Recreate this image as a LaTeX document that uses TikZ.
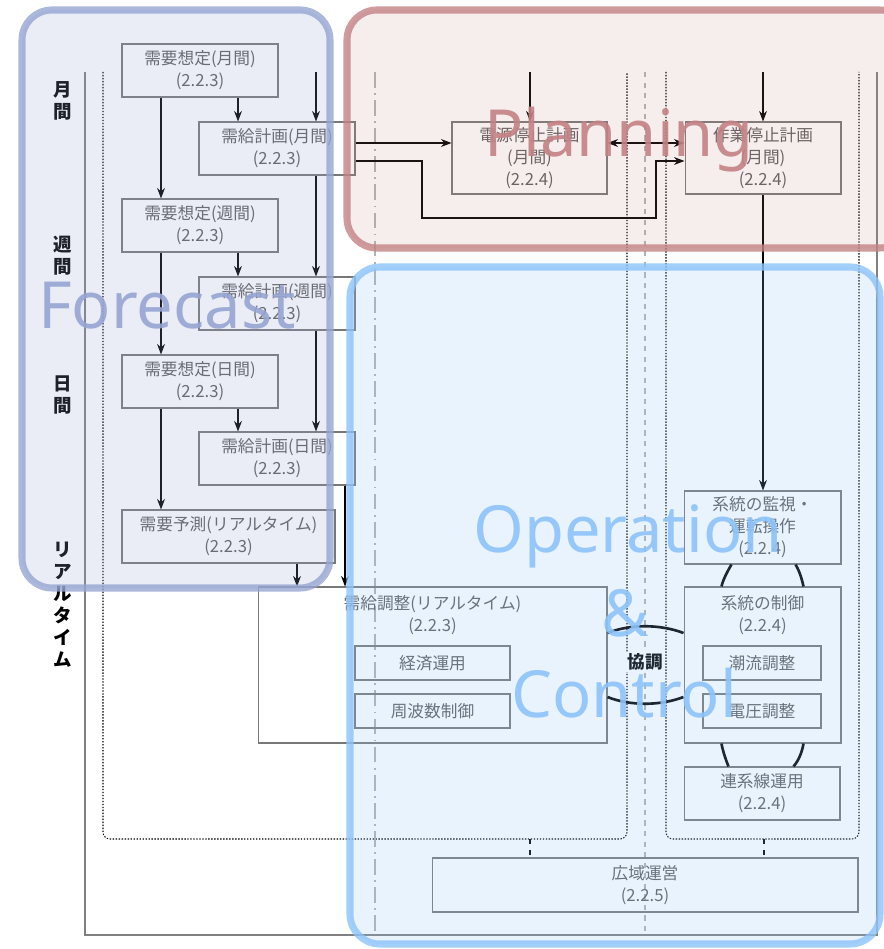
\documentclass[tikz,border=0pt]{standalone}
\usepackage{fontspec}
\setmainfont{Noto Sans CJK JP}
\newfontfamily\ovfont{Noto Sans}
\usetikzlibrary{arrows.meta}
\definecolor{boxgray}{RGB}{120,120,120}
\definecolor{txtgray}{RGB}{95,95,95}
\definecolor{fccol}{RGB}{150,165,210}
\definecolor{plcol}{RGB}{195,130,132}
\definecolor{opcol}{RGB}{140,195,250}
\begin{document}
\begin{tikzpicture}[x=0.02cm, y=-0.02cm,
  box/.style={draw=boxgray, line width=0.6pt, align=center, text=txtgray, inner sep=0pt,
    font=\fontsize{9.5}{12.5}\selectfont, minimum width=3.12cm, minimum height=1.06cm},
  lbl/.style={align=center, text=txtgray, inner sep=0pt, font=\fontsize{9.5}{12.5}\selectfont},
  side/.style={align=center, inner sep=0pt, font=\bfseries\fontsize{10.5}{12.5}\selectfont},
  arr/.style={-{Stealth[length=6pt,width=4.5pt]}, line width=0.6pt},
  dbl/.style={{Stealth[length=6pt,width=4.5pt]}-{Stealth[length=6pt,width=4.5pt]}, line width=0.6pt},
  link/.style={line width=1.5pt},
  dots/.style={dash pattern=on 0.8pt off 0.9pt, line width=0.6pt},
  sep/.style={gray!60, line width=0.8pt},
  ov/.style={rounded corners=17pt, line width=4pt, fill opacity=0.2, draw opacity=0.8},
  ovtext/.style={font=\ovfont\fontsize{37}{40}\selectfont, inner sep=0pt, anchor=base, opacity=0.9}
]
\useasboundingbox (0,0) rectangle (884,949);
\clip (0,0) rectangle (884,949);
\fill[white] (0,0) rectangle (884,949);

% frames and separators
\draw[gray, line width=1pt] (85,72) |- (877,935) -- (877,72);
\draw[dots, rounded corners=4pt] (103,72) |- (627,839) -- (627,72);
\draw[dots, rounded corners=4pt] (666,72) |- (859,839) -- (859,72);
\draw[sep, dash pattern=on 9pt off 3pt on 1pt off 3pt] (375,72) -- (375,932);
\draw[sep, dashed] (645,72) -- (645,932);

% time labels
\node[side] (lmonth) at (63,101) {月\\間};
\node[side] (lweek) at (63,256) {週\\間};
\node[side] (lday) at (63,395) {日\\間};
\node[side] (lreal) at (63,605) {リ\\ア\\ル\\タ\\イ\\ム};

% forecast / supply-demand boxes
\node[box] (dm) at (200,70.5) {需要想定(月間)\\(2.2.3)};
\node[box] (pm) at (277,148.5) {需給計画(月間)\\(2.2.3)};
\node[box] (dw) at (200,225.5) {需要想定(週間)\\(2.2.3)};
\node[box] (pw) at (277,303.5) {需給計画(週間)\\(2.2.3)};
\node[box] (dd) at (200,381.5) {需要想定(日間)\\(2.2.3)};
\node[box] (pd) at (277,458.5) {需給計画(日間)\\(2.2.3)};
\node[box, minimum width=4.26cm] (dr) at (228.5,536.5) {需要予測(リアルタイム)\\(2.2.3)};

% real time balancing
\node[box, minimum width=6.98cm, minimum height=3.12cm] (adj) at (432.5,665) {};
\node[lbl] (adjt) at (432.5,615) {需給調整(リアルタイム)\\(2.2.3)};
\node[box, minimum width=3.1cm, minimum height=0.68cm] (eco) at (432.5,663) {経済運用};
\node[box, minimum width=3.1cm, minimum height=0.68cm] (freq) at (432.5,711) {周波数制御};

% outage planning
\node[box, minimum width=3.1cm, minimum height=1.44cm] (gs) at (529.5,158) {電源停止計画\\(月間)\\(2.2.4)};
\node[box, minimum height=1.44cm] (ws) at (763,158) {作業停止計画\\(月間)\\(2.2.4)};

% system operation
\node[box, minimum width=3.14cm, minimum height=1.46cm] (mon) at (762.5,527.5) {系統の監視・\\運転操作\\(2.2.4)};
\node[box, minimum width=3.14cm, minimum height=3.12cm] (ctl) at (762.5,665) {};
\node[lbl] (ctlt) at (762.5,615) {系統の制御\\(2.2.4)};
\node[box, minimum width=2.36cm, minimum height=0.68cm] (flow) at (762,663) {潮流調整};
\node[box, minimum width=2.36cm, minimum height=0.68cm] (volt) at (762,711) {電圧調整};
\node[box] (tie) at (762,793.5) {連系線運用\\(2.2.4)};
\node[box, minimum width=8.52cm, minimum height=1.08cm] (wide) at (645,885) {広域運営\\(2.2.5)};
\node[inner sep=1pt, fill=white, font=\bfseries\fontsize{10}{12}\selectfont] (coop) at (645,662) {協調};

% helper coordinates
\coordinate (c1) at (161,0);
\coordinate (c2) at (238,0);
\coordinate (c4) at (297,0);
\coordinate (c5) at (345,0);
\coordinate (t3) at (316,72);
\coordinate (t6) at (530,72);
\coordinate (t7) at (763,72);
\coordinate (r1) at (0,143);
\coordinate (r2) at (0,161);
\coordinate (k1) at (422,218);
\coordinate (k2) at (656,218);
\coordinate (a1) at (0,633);
\coordinate (a2) at (0,697);
\coordinate (u1) at (530,839);
\coordinate (u2) at (764,839);

% arrows
\draw[arr] (dm.south -| c1) -- (dw.north -| c1);
\draw[arr] (dm.south -| c2) -- (pm.north -| c2);
\draw[arr] (t3) -- (pm.north -| t3);
\draw[arr] (pm.south -| t3) -- (pw.north -| t3);
\draw[arr] (dw.south -| c2) -- (pw.north -| c2);
\draw[arr] (dw.south -| c1) -- (dd.north -| c1);
\draw[arr] (pw.south -| t3) -- (pd.north -| t3);
\draw[arr] (dd.south -| c2) -- (pd.north -| c2);
\draw[arr] (dd.south -| c1) -- (dr.north -| c1);
\draw[arr] (dr.south -| c4) -- (adj.north -| c4);
\draw[arr] (pd.south -| c5) -- (adj.north -| c5);
\draw[arr] (pm.east |- r1) -- (gs.west |- r1);
\draw[arr] (pm.east |- r2) -| (k1) -- (k2) |- (ws.west |- r2);
\draw[dbl] (gs.east |- r1) -- (ws.west |- r1);
\draw[arr] (t6) -- (gs.north -| t6);
\draw[arr] (t7) -- (ws.north -| t7);
\draw[arr] (ws.south -| t7) -- (mon.north -| t7);
\draw[dashed, line width=0.6pt] (u1) -- (wide.north -| u1);
\draw[dashed, line width=0.6pt] (u2) -- (wide.north -| u2);

% links
\draw[link] ([xshift=0.96cm]mon.south west) .. controls (727,572) and (723,580) .. ([xshift=0.76cm]ctl.north west);
\draw[link] ([xshift=-0.92cm]mon.south east) .. controls (800,572) and (802,580) .. ([xshift=-0.76cm]ctl.north east);
\draw[link] ([xshift=0.76cm]ctl.south west) .. controls (723,752) and (726,760) .. ([xshift=0.9cm]tie.north west);
\draw[link] ([xshift=-0.76cm]ctl.south east) .. controls (802,752) and (799,760) .. ([xshift=-0.94cm]tie.north east);
\draw[link] (adj.east |- a1) .. controls (630,624) and (660,624) .. (ctl.west |- a1);
\draw[link] (adj.east |- a2) .. controls (630,706) and (660,706) .. (ctl.west |- a2);

% overlays
\draw[ov, draw=fccol, fill=fccol] (22,10) rectangle (330,588);
\draw[ov, draw=plcol, fill=plcol, fill opacity=0.14] (347,10) rectangle (910,248);
\draw[ov, draw=opcol, fill=opcol] (350,267) rectangle (880,944);
\node[ovtext, text=fccol] (fctext) at (167,328) {Forecast};
\node[ovtext, text=plcol] (pltext) at (619,157) {Planning};
\node[ovtext, text=opcol] (optext) at (628,552) {Operation};
\node[ovtext, text=opcol] (amptext) at (625,636) {\&};
\node[ovtext, text=opcol] (cttext) at (624,717) {Control};
\end{tikzpicture}
\end{document}
